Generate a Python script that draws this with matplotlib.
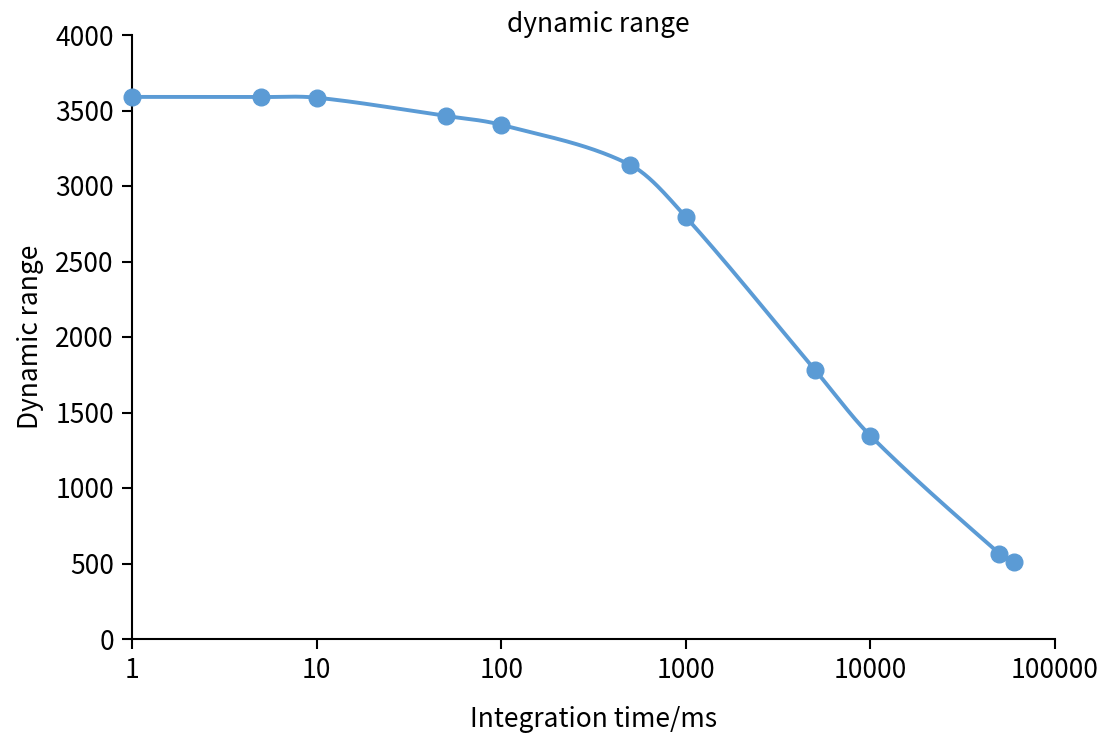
import numpy as np
import matplotlib
matplotlib.use("Agg")
import matplotlib.pyplot as plt

plt.rcParams['font.family'] = ['Noto Sans CJK SC', 'DejaVu Sans']

# integration time (ms) and measured dynamic range
t_ms = [1, 5, 10, 50, 100, 500, 1000, 5000, 10000, 50000, 60000]
dyn_range = [3590, 3589, 3585, 3464, 3405, 3140, 2795, 1783, 1346, 565, 510]

xticks = [1, 10, 100, 1000, 10000, 100000]
xtick_labels = ['1', '10', '100', '1000', '10000', '100000']
yticks = [0, 500, 1000, 1500, 2000, 2500, 3000, 3500, 4000]


def smooth(x, y, xs):
    # cubic hermite with catmull-rom style tangents, only for drawing the line
    x = np.asarray(x, float); y = np.asarray(y, float)
    h = np.diff(x); d = np.diff(y) / h
    m = np.empty_like(x)
    m[1:-1] = (y[2:] - y[:-2]) / (x[2:] - x[:-2])
    m[0] = d[0]; m[-1] = d[-1]
    idx = np.clip(np.searchsorted(x, xs) - 1, 0, len(h) - 1)
    t = (xs - x[idx]) / h[idx]
    h00 = 2*t**3 - 3*t**2 + 1; h10 = t**3 - 2*t**2 + t
    h01 = -2*t**3 + 3*t**2; h11 = t**3 - t**2
    return h00*y[idx] + h10*h[idx]*m[idx] + h01*y[idx+1] + h11*h[idx]*m[idx+1]


lx = np.log10(t_ms)
xs = np.linspace(lx[0], lx[-1], 600)
ys = smooth(lx, dyn_range, xs)

fig = plt.figure(figsize=(11.05, 7.4), dpi=100)
ax = fig.add_axes([132/1105, 1 - 639/740, (1055-132)/1105, (639-35)/740])

col = '#5b9bd5'
ax.plot(10**xs, ys, color=col, lw=2.8, solid_capstyle='round')
ax.plot(t_ms, dyn_range, 'o', color=col, markersize=12, zorder=3, clip_on=False)

ax.set_xscale('log')
ax.set_xlim(1, 100000)
ax.set_ylim(0, 4000)
ax.set_xticks(xticks)
ax.set_xticklabels(xtick_labels)
ax.xaxis.set_minor_locator(matplotlib.ticker.NullLocator())
ax.set_yticks(yticks)

for s in ['top', 'right']:
    ax.spines[s].set_visible(False)
for s in ['left', 'bottom']:
    ax.spines[s].set_linewidth(1.5)
ax.tick_params(direction='out', length=7, width=1.5, labelsize=19, pad=6)

# title sits a little lower than the default, close to the top of the axes
fig.text(598/1105, 1 - 25/740, 'dynamic range', fontsize=19, ha='center', va='center')
ax.set_xlabel('Integration time/ms', fontsize=19, labelpad=16)
ax.set_ylabel('Dynamic range', fontsize=19, labelpad=8)

fig.savefig('out.png', dpi=100)
